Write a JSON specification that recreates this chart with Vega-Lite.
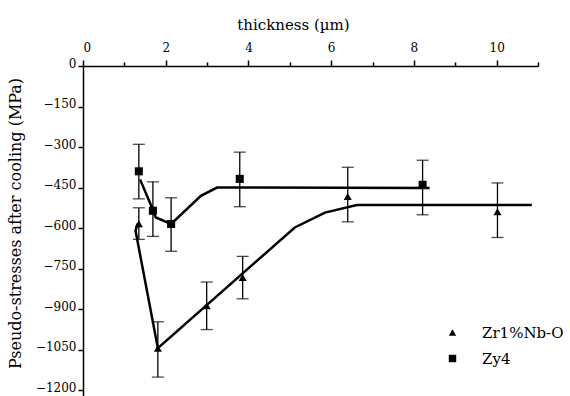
{
  "$schema": "https://vega.github.io/schema/vega-lite/v6.json",
  "width": 455,
  "height": 330,
  "autosize": {"type": "none"},
  "padding": {"left": 83, "top": 66, "right": 32, "bottom": 0},
  "background": "white",
  "config": {
    "view": {"stroke": null},
    "font": "DejaVu Serif",
    "axis": {"labelFont": "DejaVu Serif", "titleFont": "DejaVu Serif", "domainColor": "black", "tickColor": "black", "labelColor": "black", "titleColor": "black", "grid": false, "titleFontWeight": "normal"},
    "legend": {"labelFont": "DejaVu Serif"}
  },
  "datasets": {
    "pts": [
      {"series": "Zy4", "x": 1.35, "y": -390, "lo": -492, "hi": -290},
      {"series": "Zy4", "x": 1.69, "y": -536, "lo": -631, "hi": -429},
      {"series": "Zy4", "x": 2.13, "y": -585, "lo": -686, "hi": -488},
      {"series": "Zy4", "x": 3.79, "y": -418, "lo": -521, "hi": -319},
      {"series": "Zy4", "x": 8.21, "y": -440, "lo": -551, "hi": -349},
      {"series": "Zr1%Nb-O", "x": 1.35, "y": -584, "lo": -642, "hi": -525},
      {"series": "Zr1%Nb-O", "x": 1.81, "y": -1045, "lo": -1152, "hi": -947},
      {"series": "Zr1%Nb-O", "x": 2.99, "y": -888, "lo": -976, "hi": -800},
      {"series": "Zr1%Nb-O", "x": 3.86, "y": -783, "lo": -862, "hi": -705},
      {"series": "Zr1%Nb-O", "x": 6.40, "y": -483, "lo": -577, "hi": -375},
      {"series": "Zr1%Nb-O", "x": 10.02, "y": -540, "lo": -635, "hi": -433}
    ],
    "curves": [
      {"series": "Zy4", "o": 1, "x": 1.38, "y": -420},
      {"series": "Zy4", "o": 2, "x": 1.67, "y": -525},
      {"series": "Zy4", "o": 3, "x": 1.76, "y": -561},
      {"series": "Zy4", "o": 4, "x": 2.13, "y": -585},
      {"series": "Zy4", "o": 5, "x": 2.85, "y": -481},
      {"series": "Zy4", "o": 6, "x": 3.24, "y": -450},
      {"series": "Zy4", "o": 7, "x": 8.38, "y": -452},
      {"series": "Zr1%Nb-O", "o": 1, "x": 1.32, "y": -584},
      {"series": "Zr1%Nb-O", "o": 2, "x": 1.27, "y": -610},
      {"series": "Zr1%Nb-O", "o": 3, "x": 1.81, "y": -1045},
      {"series": "Zr1%Nb-O", "o": 4, "x": 5.12, "y": -598},
      {"series": "Zr1%Nb-O", "o": 5, "x": 5.85, "y": -543},
      {"series": "Zr1%Nb-O", "o": 6, "x": 6.62, "y": -515},
      {"series": "Zr1%Nb-O", "o": 7, "x": 10.85, "y": -515}
    ]
  },
  "layer": [
    {
      "data": {"name": "curves"},
      "mark": {"type": "line", "color": "black", "strokeWidth": 2.5, "clip": true},
      "encoding": {
        "x": {"field": "x", "type": "quantitative", "scale": {"domain": [0, 11], "nice": false, "zero": false},
          "axis": {"orient": "top", "title": "thickness (µm)", "titleFontSize": 15, "titlePadding": 9, "titleX": 210, "titleAlign": "center", "labelFontSize": 12, "labelPadding": 6,
            "values": [0,1,2,3,4,5,6,7,8,9,10,11],
            "labelExpr": "datum.value % 2 == 0 && datum.value <= 10 ? datum.label : ''",
            "tickSize": {"condition": {"test": "datum.value % 2 == 0", "value": 6}, "value": 4},
            "domainWidth": 1.5, "tickWidth": 1.5}},
        "y": {"field": "y", "type": "quantitative", "scale": {"domain": [-1222, 0], "nice": false, "zero": false},
          "axis": {"title": "Pseudo-stresses after cooling (MPa)", "titleFontSize": 16, "titlePadding": 12, "titleY": 157, "titleAlign": "center", "labelFontSize": 12, "labelPadding": 2, "labelOffset": -3,
            "values": [0,-75,-150,-225,-300,-375,-450,-525,-600,-675,-750,-825,-900,-975,-1050,-1125,-1200],
            "labelExpr": "datum.value % 150 == 0 ? datum.label : ''",
            "format": "d",
            "tickSize": 5,
            "domainWidth": 1.5, "tickWidth": 1.5}},
        "detail": {"field": "series"},
        "order": {"field": "o", "type": "quantitative"}
      }
    },
    {
      "data": {"name": "pts"},
      "mark": {"type": "rule", "color": "black", "strokeWidth": 1.3},
      "encoding": {
        "x": {"field": "x", "type": "quantitative"},
        "y": {"field": "lo", "type": "quantitative"},
        "y2": {"field": "hi"}
      }
    },
    {
      "data": {"name": "pts"},
      "mark": {"type": "tick", "orient": "horizontal", "color": "black", "size": 12, "thickness": 1.3},
      "encoding": {
        "x": {"field": "x", "type": "quantitative"},
        "y": {"field": "lo", "type": "quantitative"}
      }
    },
    {
      "data": {"name": "pts"},
      "mark": {"type": "tick", "orient": "horizontal", "color": "black", "size": 12, "thickness": 1.3},
      "encoding": {
        "x": {"field": "x", "type": "quantitative"},
        "y": {"field": "hi", "type": "quantitative"}
      }
    },
    {
      "data": {"name": "pts"},
      "mark": {"type": "point", "filled": true, "color": "black", "opacity": 1},
      "encoding": {
        "x": {"field": "x", "type": "quantitative"},
        "y": {"field": "y", "type": "quantitative"},
        "shape": {"field": "series", "type": "nominal",
          "scale": {"domain": ["Zr1%Nb-O", "Zy4"], "range": ["triangle-up", "square"]},
          "legend": {"title": null, "orient": "none", "legendX": 362, "legendY": 259, "labelFont": "DejaVu Serif", "labelFontSize": 15, "labelColor": "black", "labelOffset": 22, "rowPadding": 10, "symbolFillColor": "black", "symbolStrokeColor": "black", "symbolSize": 55}},
        "size": {"value": 65}
      }
    }
  ]
}
